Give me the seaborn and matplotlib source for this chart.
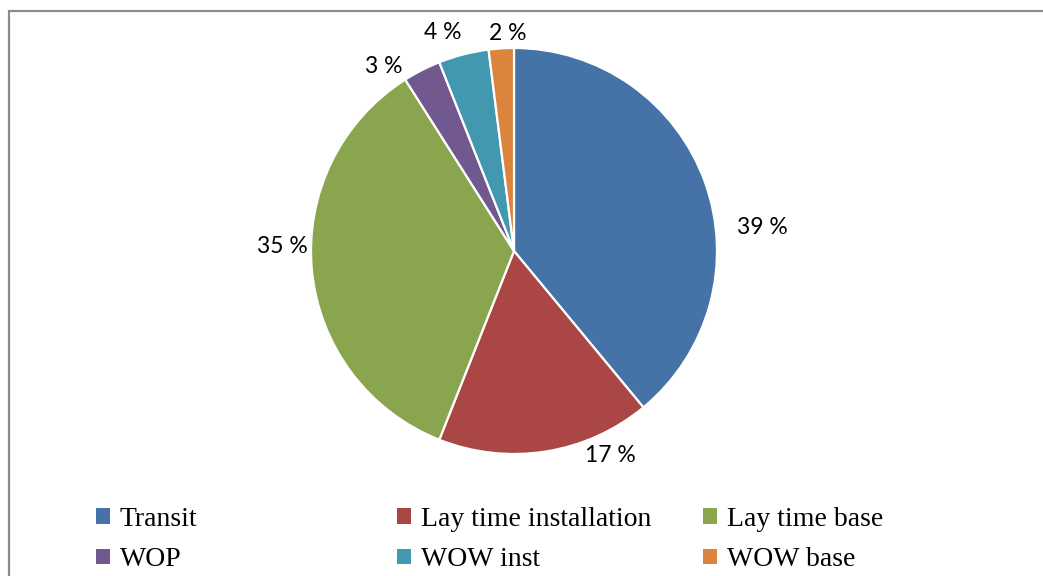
import matplotlib
matplotlib.use("Agg")
import matplotlib.pyplot as plt
from matplotlib.patches import Rectangle
import numpy as np
import seaborn as sns

# Share of vessel time per activity (percent)
categories = ["Transit", "Lay time installation", "Lay time base",
              "WOP", "WOW inst", "WOW base"]
shares = [39, 17, 35, 3, 4, 2]
colors = ["#4572A7", "#AA4643", "#89A54E", "#71588F", "#4198AF", "#DB843D"]

sns.set_theme(style="white")
palette = sns.color_palette(colors)

W, H = 1043, 576
fig = plt.figure(figsize=(W / 100, H / 100), dpi=100)
fig.patch.set_facecolor("white")

# Pie axes: centre (514, 251) px, radius 203 px
cx, cy, r = 514, 251, 203
ax = fig.add_axes([(cx - r) / W, (H - cy - r) / H, 2 * r / W, 2 * r / H])
wedges, _ = ax.pie(shares, colors=palette, startangle=90, counterclock=False,
                   wedgeprops=dict(edgecolor="white", linewidth=1.6),
                   radius=1.0)
ax.set_xlim(-1, 1)
ax.set_ylim(-1, 1)
ax.set_aspect("equal")
ax.axis("off")

# Label placement (angle in degrees, distance in radii) for each slice
label_angle = [5.3, -64.9, 178.8, 125.2, 108.0, 91.6]
label_dist = [1.23, 1.115, 1.14, 1.11, 1.13, 1.07]
for val, a, d in zip(shares, label_angle, label_dist):
    t = np.deg2rad(a)
    ax.text(d * np.cos(t), d * np.sin(t), f"{val} %", ha="center", va="center",
            fontsize=16.5, family=["Lato", "DejaVu Sans"], color="black",
            clip_on=False)

# Legend: three columns of two entries each
col_x = [96, 397, 703]
for j, x in enumerate(col_x):
    idx = [j, j + 3]
    leg = fig.legend([wedges[i] for i in idx], [categories[i] for i in idx],
                     loc="upper left", bbox_to_anchor=(x / W, (H - 507) / H),
                     frameon=False, handlelength=0.5, handleheight=0.5,
                     handletextpad=0.35, labelspacing=0.55,
                     borderpad=0, borderaxespad=0, labelcolor="black",
                     prop=dict(family="Liberation Serif", size=20))
    for h in leg.legend_handles:
        h.set_edgecolor("none")

# Chart border
fig.add_artist(Rectangle((8.5 / W, -0.1), 1.2, (H - 10.5) / H + 0.1,
                         transform=fig.transFigure, fill=False,
                         edgecolor="#8c8c8c", linewidth=1.6))

fig.savefig("out.png", dpi=100, facecolor="white")
